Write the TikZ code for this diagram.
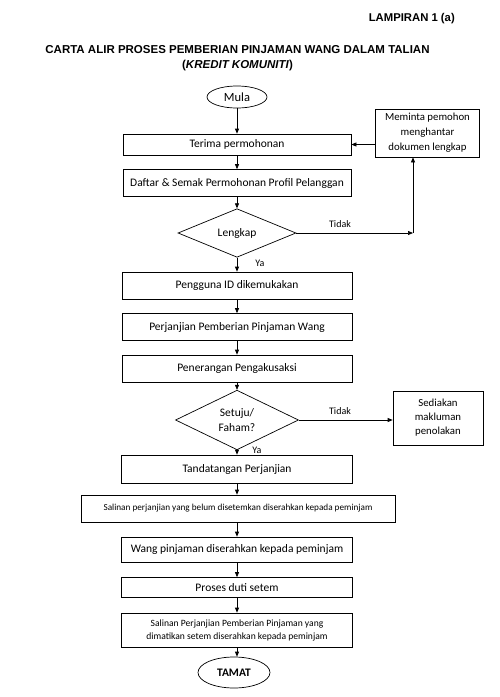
\documentclass[tikz,border=0pt]{standalone}
\usepackage{fontspec}
\setmainfont{Carlito}
\newfontfamily\arialf{Liberation Sans}
\usetikzlibrary{shapes.geometric,arrows.meta}
\begin{document}
\begin{tikzpicture}[x=1pt,y=-1pt,
  box/.style={draw,line width=0.7pt,rectangle,inner sep=1pt,align=center,font=\fontsize{11.5}{14}\selectfont},
  sidebox/.style={box,font=\fontsize{10.8}{15}\selectfont},
  smallbox/.style={box,font=\fontsize{9.2}{12}\selectfont},
  oval/.style={draw,line width=0.7pt,ellipse,inner sep=0pt,font=\fontsize{12.5}{14}\selectfont},
  dia/.style={draw,line width=0.7pt,diamond,inner sep=0pt,align=center,font=\fontsize{11.5}{15}\selectfont},
  arr/.style={line width=0.7pt,-{Triangle[length=5pt,width=4pt]}},
  lbl/.style={font=\fontsize{10}{12}\selectfont,inner sep=0pt}]
\useasboundingbox (0,0) rectangle (500,697);
\fill[white] (0,0) rectangle (500,697);
\node[font=\arialf\bfseries\fontsize{11.3}{13}\selectfont,anchor=east,inner sep=0pt] (lamp) at (455,19) {LAMPIRAN 1 (a)};
\node[font=\arialf\bfseries\fontsize{11.5}{13}\selectfont,inner sep=0pt] (t1) at (237.5,50) {CARTA ALIR PROSES PEMBERIAN PINJAMAN WANG DALAM TALIAN};
\node[font=\arialf\bfseries\fontsize{11.5}{13}\selectfont,inner sep=0pt] (t2) at (237.5,66) {(\textit{KREDIT KOMUNITI})};

\node[oval,minimum width=60pt,minimum height=22pt] (mula) at (237,97) {Mula};
\node[box,minimum width=228pt,minimum height=21pt] (terima) at (237,144.5) {Terima permohonan};
\node[sidebox,minimum width=104pt,minimum height=48pt] (meminta) at (427.5,133) {Meminta pemohon\\menghantar\\dokumen lengkap};
\node[box,minimum width=228pt,minimum height=27pt] (daftar) at (237,183) {Daftar \& Semak Permohonan Profil Pelanggan};
\node[dia,minimum width=118pt,minimum height=44pt] (lengkap) at (237,233) {Lengkap};
\node[box,minimum width=230pt,minimum height=27pt] (pengguna) at (237,285.5) {Pengguna ID dikemukakan};
\node[box,minimum width=230pt,minimum height=27pt] (perjanjian) at (237,327) {Perjanjian Pemberian Pinjaman Wang};
\node[box,minimum width=230pt,minimum height=27pt] (penerangan) at (237,368.5) {Penerangan Pengakusaksi};
\node[dia,minimum width=123pt,minimum height=46pt] (setuju) at (237,420) {Setuju/\\Faham?};
\node[sidebox,minimum width=90pt,minimum height=54pt,font=\fontsize{10.8}{14}\selectfont] (sediakan) at (438,418) {Sediakan\\makluman\\penolakan};
\node[box,minimum width=231pt,minimum height=28pt] (tanda) at (237,469) {Tandatangan Perjanjian};
\node[smallbox,minimum width=314pt,minimum height=27pt] (salin1) at (238,508.5) {Salinan perjanjian yang belum disetemkan diserahkan kepada peminjam};
\node[box,minimum width=231pt,minimum height=25pt] (wang) at (237,549.5) {Wang pinjaman diserahkan kepada peminjam};
\node[box,minimum width=231pt,minimum height=20pt] (proses) at (237,587.5) {Proses duti setem};
\node[smallbox,minimum width=231pt,minimum height=34pt,font=\fontsize{9.6}{13}\selectfont] (salin2) at (237,630) {Salinan Perjanjian Pemberian Pinjaman yang\\dimatikan setem diserahkan kepada peminjam};
\node[oval,minimum width=72pt,minimum height=31pt,font=\bfseries\fontsize{11.5}{13}\selectfont] (tamat) at (234,672.5) {TAMAT};

\draw[arr] (mula.south) -- (mula.south |- terima.north);
\draw[arr] (terima) -- (daftar);
\draw[arr] (daftar) -- (lengkap);
\draw[arr] (lengkap) -- (pengguna);
\draw[arr] (pengguna) -- (perjanjian);
\draw[arr] (perjanjian) -- (penerangan);
\draw[arr] (penerangan) -- (setuju);
\draw[arr] (setuju) -- (tanda);
\draw[arr] (tanda.south) -- (tanda.south |- salin1.north);
\draw[arr] (salin1.south -| wang.north) -- (wang.north);
\draw[arr] (wang) -- (proses);
\draw[arr] (proses) -- (salin2);
\draw[arr] (salin2.south -| 237,0) -- (tamat.north -| 237,0);
\draw[arr] (meminta.west |- terima.east) -- (terima.east);
\coordinate (c1) at (413,233);
\draw[arr] (lengkap.east) -- (c1);
\draw[arr] (c1) -- (c1 |- meminta.south);
\draw[arr] (setuju.east) -- (sediakan.west |- setuju.east);
\node[lbl] (tidak1) at (340,224) {Tidak};
\node[lbl] (tidak2) at (340,411) {Tidak};
\node[lbl] (ya1) at (260,263) {Ya};
\node[lbl] (ya2) at (257,450) {Ya};
\end{tikzpicture}
\end{document}
